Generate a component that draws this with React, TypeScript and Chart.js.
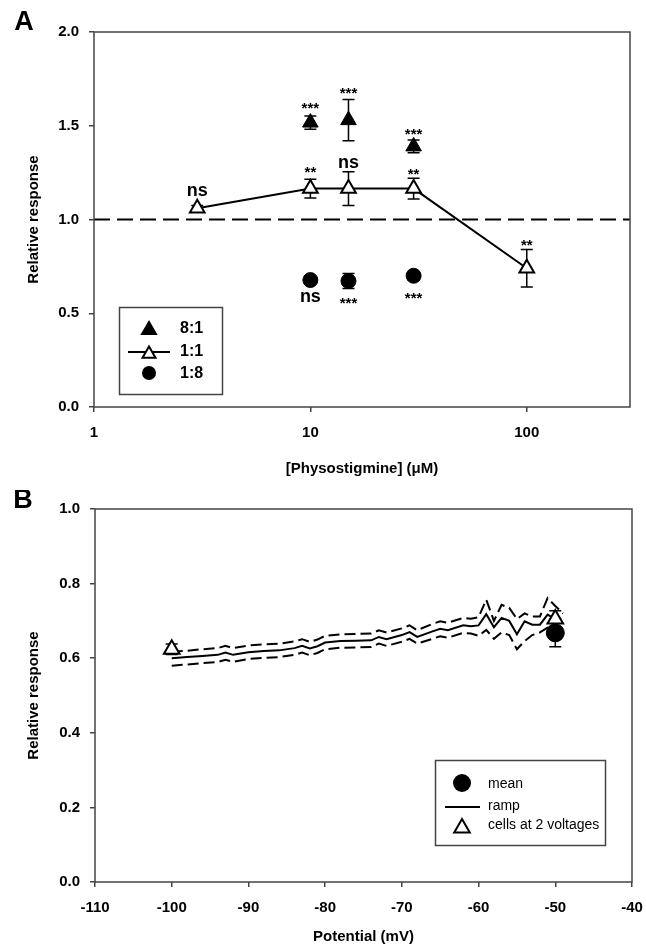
import React, { useEffect, useRef } from "react";
import { Chart, registerables } from "chart.js";

Chart.register(...registerables);

// ---------------- Panel A data ----------------
const concAll = [3, 10, 15, 30, 100];
const resp11 = [1.06, 1.165, 1.165, 1.165, 0.74];
const err11 = [0.015, 0.05, 0.09, 0.055, 0.1];

const concSub = [10, 15, 30];
const resp81 = [1.517, 1.53, 1.39];
const err81 = [0.035, 0.11, 0.034];
const resp18 = [0.677, 0.672, 0.7];
const err18 = [0.01, 0.04, 0.022];

const refLineX = [1, 300];
const refLineY = [1, 1];

const xTicksA = [1, 10, 100];

const annAX = [10, 15, 30, 3, 10, 15, 30, 100, 10, 15, 30];
const annAY = [1.61, 1.69, 1.474, 1.154, 1.27, 1.3, 1.26, 0.882, 0.588, 0.571, 0.597];
const annAText = ["***", "***", "***", "ns", "**", "ns", "**", "**", "ns", "***", "***"];

// ---------------- Panel B data ----------------
const cellsV = [-100, -50];
const cellsResp = [0.624, 0.705];
const cellsErr = [0.014, 0.022];

const meanV = [-50];
const meanResp = [0.668];
const meanErr = [0.037];

const rampV = [-100, -98, -96, -94, -93, -92, -90, -88, -86, -84, -83, -82, -81, -80, -78, -76, -74, -73, -72, -70, -69, -68, -66, -65, -64, -62, -61, -60, -59, -58, -57, -56, -55, -54, -53, -52, -51, -50, -49];
const rampMean = [0.6, 0.603, 0.606, 0.609, 0.615, 0.609, 0.616, 0.619, 0.621, 0.627, 0.633, 0.626, 0.632, 0.642, 0.646, 0.647, 0.648, 0.657, 0.651, 0.662, 0.67, 0.657, 0.672, 0.679, 0.675, 0.688, 0.686, 0.688, 0.718, 0.683, 0.708, 0.7, 0.664, 0.699, 0.69, 0.69, 0.717, 0.705, 0.694];
const rampUpper = [0.617, 0.62, 0.624, 0.627, 0.633, 0.627, 0.634, 0.637, 0.639, 0.645, 0.651, 0.644, 0.65, 0.66, 0.664, 0.665, 0.666, 0.675, 0.669, 0.68, 0.688, 0.675, 0.692, 0.699, 0.695, 0.708, 0.706, 0.71, 0.757, 0.7, 0.743, 0.735, 0.705, 0.72, 0.712, 0.712, 0.761, 0.74, 0.72];
const rampLower = [0.58, 0.583, 0.587, 0.59, 0.596, 0.59, 0.598, 0.601, 0.603, 0.609, 0.615, 0.608, 0.614, 0.624, 0.628, 0.629, 0.63, 0.639, 0.633, 0.644, 0.652, 0.639, 0.652, 0.659, 0.655, 0.668, 0.666, 0.66, 0.676, 0.652, 0.669, 0.662, 0.624, 0.646, 0.662, 0.669, 0.682, 0.675, 0.668];

// ---------------- styling ----------------
const FONT = "'Liberation Sans', Arial, Helvetica, sans-serif";
const AXIS_COLOR = "#444";

function pts(xs: number[], ys: number[]) {
  return xs.map((x, i) => ({ x, y: ys[i] }));
}

function triangle(ctx: CanvasRenderingContext2D, x: number, y: number, r: number, fill: string) {
  ctx.beginPath();
  let a = 0;
  ctx.moveTo(x + Math.sin(a) * r, y - Math.cos(a) * r);
  a += (2 * Math.PI) / 3;
  ctx.lineTo(x + Math.sin(a) * r, y - Math.cos(a) * r);
  a += (2 * Math.PI) / 3;
  ctx.lineTo(x + Math.sin(a) * r, y - Math.cos(a) * r);
  ctx.closePath();
  ctx.fillStyle = fill;
  ctx.fill();
  ctx.lineWidth = 2;
  ctx.strokeStyle = "#000";
  ctx.stroke();
}

function drawErrorBars(chart: any) {
  const ctx = chart.ctx;
  const xs = chart.scales.x;
  const ys = chart.scales.y;
  ctx.save();
  ctx.strokeStyle = "#000";
  ctx.lineWidth = 1.5;
  chart.data.datasets.forEach((ds: any) => {
    if (!ds.errorBars) return;
    ds.data.forEach((p: any, i: number) => {
      const e = ds.errorBars[i];
      const px = xs.getPixelForValue(p.x);
      const pt = ys.getPixelForValue(p.y + e);
      const pb = ys.getPixelForValue(p.y - e);
      ctx.beginPath();
      ctx.moveTo(px, pt);
      ctx.lineTo(px, pb);
      ctx.moveTo(px - 6, pt);
      ctx.lineTo(px + 6, pt);
      ctx.moveTo(px - 6, pb);
      ctx.lineTo(px + 6, pb);
      ctx.stroke();
    });
  });
  ctx.restore();
}

function drawFrame(chart: any) {
  const { ctx, chartArea } = chart;
  ctx.save();
  ctx.strokeStyle = AXIS_COLOR;
  ctx.lineWidth = 1.5;
  ctx.strokeRect(chartArea.left, chartArea.top, chartArea.right - chartArea.left, chartArea.bottom - chartArea.top);
  ctx.restore();
}

function drawLetter(chart: any, letter: string, x: number, y: number) {
  const ctx = chart.ctx;
  ctx.save();
  ctx.fillStyle = "#000";
  ctx.font = `bold 27px ${FONT}`;
  ctx.textAlign = "center";
  ctx.textBaseline = "middle";
  ctx.fillText(letter, x, y);
  ctx.restore();
}

const pluginA = {
  id: "extrasA",
  beforeDatasetsDraw(chart: any) {
    drawErrorBars(chart);
  },
  afterDatasetsDraw(chart: any) {
    const ctx = chart.ctx;
    const xs = chart.scales.x;
    const ys = chart.scales.y;
    ctx.save();
    ctx.fillStyle = "#000";
    ctx.textAlign = "center";
    ctx.textBaseline = "middle";
    annAText.forEach((t, i) => {
      const px = xs.getPixelForValue(annAX[i]);
      const py = ys.getPixelForValue(annAY[i]);
      if (t === "ns") {
        ctx.font = `bold 18px ${FONT}`;
        ctx.fillText(t, px, py);
      } else {
        ctx.font = `bold 15px ${FONT}`;
        ctx.fillText(t, px, py + 4);
      }
    });
    ctx.restore();
  },
  afterDraw(chart: any) {
    drawFrame(chart);
    const ctx = chart.ctx;
    ctx.save();
    ctx.fillStyle = "#fff";
    ctx.fillRect(119, 307, 103, 87);
    ctx.strokeStyle = AXIS_COLOR;
    ctx.lineWidth = 1.5;
    ctx.strokeRect(119.5, 307.5, 103, 87);
    triangle(ctx, 149, 330, 8, "#000");
    ctx.beginPath();
    ctx.strokeStyle = "#000";
    ctx.lineWidth = 2;
    ctx.moveTo(128, 352);
    ctx.lineTo(170, 352);
    ctx.stroke();
    triangle(ctx, 149, 354, 7.5, "#fff");
    ctx.beginPath();
    ctx.arc(149, 373, 7, 0, Math.PI * 2);
    ctx.fillStyle = "#000";
    ctx.fill();
    ctx.font = `bold 16px ${FONT}`;
    ctx.textAlign = "left";
    ctx.textBaseline = "middle";
    ctx.fillStyle = "#000";
    ctx.fillText("8:1", 180, 329);
    ctx.fillText("1:1", 180, 352);
    ctx.fillText("1:8", 180, 374);
    ctx.restore();
    drawLetter(chart, "A", 24, 23);
  },
};

const pluginB = {
  id: "extrasB",
  beforeDatasetsDraw(chart: any) {
    drawErrorBars(chart);
  },
  afterDraw(chart: any) {
    drawFrame(chart);
    const ctx = chart.ctx;
    ctx.save();
    ctx.fillStyle = "#fff";
    ctx.fillRect(435, 270, 170, 85);
    ctx.strokeStyle = AXIS_COLOR;
    ctx.lineWidth = 1.5;
    ctx.strokeRect(435.5, 270.5, 170, 85);
    ctx.beginPath();
    ctx.arc(462, 293, 9, 0, Math.PI * 2);
    ctx.fillStyle = "#000";
    ctx.fill();
    ctx.beginPath();
    ctx.strokeStyle = "#000";
    ctx.lineWidth = 2;
    ctx.moveTo(445, 317);
    ctx.lineTo(480, 317);
    ctx.stroke();
    triangle(ctx, 462, 338, 9, "#fff");
    ctx.font = `14px ${FONT}`;
    ctx.textAlign = "left";
    ctx.textBaseline = "middle";
    ctx.fillStyle = "#000";
    ctx.fillText("mean", 488, 294);
    ctx.fillText("ramp", 488, 316);
    ctx.fillText("cells at 2 voltages", 488, 335);
    ctx.restore();
    drawLetter(chart, "B", 23, 11);
  },
};

const tickFont = { family: FONT, size: 15, weight: "bold" as const };
const titleFont = { family: FONT, size: 15, weight: "bold" as const };
const gridOpts = {
  display: true,
  drawOnChartArea: false,
  drawTicks: true,
  tickLength: 5,
  color: AXIS_COLOR,
  lineWidth: 1.5,
};

export default function App() {
  const refA = useRef<HTMLCanvasElement>(null);
  const refB = useRef<HTMLCanvasElement>(null);

  useEffect(() => {
    const chartA = new Chart(refA.current as HTMLCanvasElement, {
      type: "line",
      data: {
        datasets: [
          {
            label: "reference",
            data: pts(refLineX, refLineY),
            borderColor: "#000",
            borderWidth: 2,
            borderDash: [16, 7],
            pointRadius: 0,
            showLine: true,
            order: 10,
          } as any,
          {
            label: "1:1",
            data: pts(concAll, resp11),
            borderColor: "#000",
            borderWidth: 2,
            showLine: true,
            pointStyle: "triangle",
            pointRadius: 8.5,
            pointBackgroundColor: "#fff",
            pointBorderColor: "#000",
            pointBorderWidth: 2,
            errorBars: err11,
            order: 3,
          } as any,
          {
            label: "8:1",
            data: pts(concSub, resp81),
            showLine: false,
            pointStyle: "triangle",
            pointRadius: 9,
            pointBackgroundColor: "#000",
            pointBorderColor: "#000",
            pointBorderWidth: 1,
            errorBars: err81,
            order: 2,
          } as any,
          {
            label: "1:8",
            data: pts(concSub, resp18),
            showLine: false,
            pointStyle: "circle",
            pointRadius: 7.5,
            pointBackgroundColor: "#000",
            pointBorderColor: "#000",
            pointBorderWidth: 1,
            errorBars: err18,
            order: 1,
          } as any,
        ],
      },
      options: {
        animation: false,
        responsive: false,
        devicePixelRatio: 1,
        layout: { padding: { left: 0, right: 16, top: 32, bottom: 0 } },
        plugins: { legend: { display: false }, tooltip: { enabled: false } },
        scales: {
          x: {
            type: "logarithmic",
            min: 1,
            max: 300,
            afterBuildTicks: (s: any) => {
              s.ticks = xTicksA.map((v) => ({ value: v }));
            },
            afterFit: (s: any) => {
              s.height = 83;
              s.paddingLeft = 0;
              s.paddingRight = 0;
            },
            ticks: {
              callback: (v: any) => String(v),
              font: tickFont,
              color: "#000",
              padding: 12,
              maxRotation: 0,
              autoSkip: false,
            },
            grid: gridOpts,
            border: { display: false },
            title: {
              display: true,
              text: "[Physostigmine] (\u03bcM)",
              font: titleFont,
              color: "#000",
              padding: { top: 0, bottom: 12 },
            },
          },
          y: {
            min: 0,
            max: 2,
            afterFit: (s: any) => {
              s.width = 94;
            },
            ticks: {
              stepSize: 0.5,
              callback: (v: any) => Number(v).toFixed(1),
              font: tickFont,
              color: "#000",
              padding: 10,
            },
            grid: gridOpts,
            border: { display: false },
            title: {
              display: true,
              text: "Relative response",
              font: titleFont,
              color: "#000",
              padding: { top: 25, bottom: 0 },
            },
          },
        },
      } as any,
      plugins: [pluginA],
    });

    const chartB = new Chart(refB.current as HTMLCanvasElement, {
      type: "line",
      data: {
        datasets: [
          {
            label: "ramp upper",
            data: pts(rampV, rampUpper),
            borderColor: "#000",
            borderWidth: 2,
            borderDash: [11, 5],
            pointRadius: 0,
            showLine: true,
            order: 6,
          } as any,
          {
            label: "ramp lower",
            data: pts(rampV, rampLower),
            borderColor: "#000",
            borderWidth: 2,
            borderDash: [11, 5],
            pointRadius: 0,
            showLine: true,
            order: 5,
          } as any,
          {
            label: "ramp",
            data: pts(rampV, rampMean),
            borderColor: "#000",
            borderWidth: 2,
            pointRadius: 0,
            showLine: true,
            order: 4,
          } as any,
          {
            label: "mean",
            data: pts(meanV, meanResp),
            showLine: false,
            pointStyle: "circle",
            pointRadius: 9,
            pointBackgroundColor: "#000",
            pointBorderColor: "#000",
            pointBorderWidth: 1,
            errorBars: meanErr,
            order: 2,
          } as any,
          {
            label: "cells at 2 voltages",
            data: pts(cellsV, cellsResp),
            showLine: false,
            pointStyle: "triangle",
            pointRadius: 9,
            pointBackgroundColor: "#fff",
            pointBorderColor: "#000",
            pointBorderWidth: 2,
            errorBars: cellsErr,
            order: 1,
          } as any,
        ],
      },
      options: {
        animation: false,
        responsive: false,
        devicePixelRatio: 1,
        layout: { padding: { left: 0, right: 14, top: 15, bottom: 0 } },
        plugins: { legend: { display: false }, tooltip: { enabled: false } },
        scales: {
          x: {
            type: "linear",
            min: -110,
            max: -40,
            afterFit: (s: any) => {
              s.height = 66;
              s.paddingLeft = 0;
              s.paddingRight = 0;
            },
            ticks: {
              stepSize: 10,
              callback: (v: any) => String(v),
              font: tickFont,
              color: "#000",
              padding: 12,
              maxRotation: 0,
              autoSkip: false,
            },
            grid: gridOpts,
            border: { display: false },
            title: {
              display: true,
              text: "Potential (mV)",
              font: titleFont,
              color: "#000",
              padding: { top: 0, bottom: 2 },
            },
          },
          y: {
            min: 0,
            max: 1,
            afterFit: (s: any) => {
              s.width = 95;
            },
            ticks: {
              stepSize: 0.2,
              callback: (v: any) => Number(v).toFixed(1),
              font: tickFont,
              color: "#000",
              padding: 10,
            },
            grid: gridOpts,
            border: { display: false },
            title: {
              display: true,
              text: "Relative response",
              font: titleFont,
              color: "#000",
              padding: { top: 25, bottom: 0 },
            },
          },
        },
      } as any,
      plugins: [pluginB],
    });

    return () => {
      chartA.destroy();
      chartB.destroy();
    };
  }, []);

  return (
    <div style={{ position: "absolute", left: 0, top: 0, width: 646, height: 948, background: "#fff" }}>
      <canvas ref={refA} width={646} height={490} style={{ position: "absolute", left: 0, top: 0, width: 646, height: 490 }} />
      <canvas ref={refB} width={646} height={458} style={{ position: "absolute", left: 0, top: 490, width: 646, height: 458 }} />
    </div>
  );
}
